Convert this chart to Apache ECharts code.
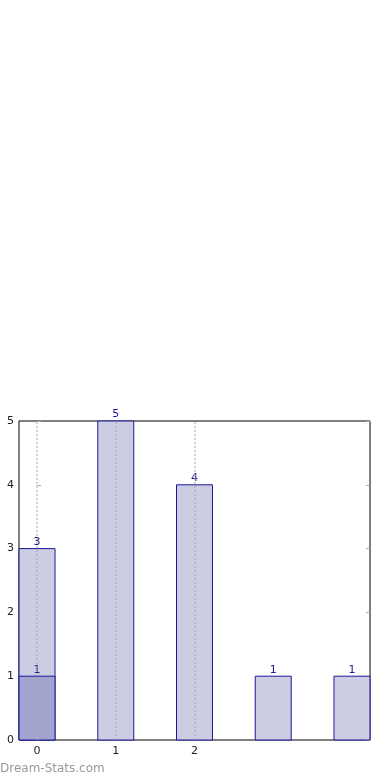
<!DOCTYPE html>
<html><head><meta charset="utf-8">
<script src="https://cdn.jsdelivr.net/npm/echarts@6/dist/echarts.min.js"></script>
<style>html,body{margin:0;padding:0;background:#fff}#c{width:390px;height:780px}</style>
</head><body><div id="c"></div>
<script>
var positions = [0, 1, 2, 3, 4];
var counts = [3, 5, 4, 1, 1];
var overlayPositions = [0];
var overlayCounts = [1];
var xTickValues = [0, 1, 2];
var yTickValues = [0, 1, 2, 3, 4, 5];

var BAR_W = 0.457;
function barRender(fill) {
  return function (params, api) {
    var x = api.value(0), y = api.value(1);
    var p0 = api.coord([x - BAR_W / 2, 0]);
    var p1 = api.coord([x + BAR_W / 2, y]);
    return {
      type: 'group',
      children: [
        { type: 'rect', shape: { x: p0[0], y: p1[1], width: p1[0] - p0[0], height: p0[1] - p1[1] },
          style: { fill: fill, stroke: '#1a1a99', lineWidth: 1 } },
        { type: 'text', x: (p0[0] + p1[0]) / 2, y: p1[1] - 1,
          style: { text: String(y), fill: '#1a1a8c', font: '11px "DejaVu Sans"', align: 'center', verticalAlign: 'bottom' } }
      ]
    };
  };
}

var chart = echarts.init(document.getElementById('c'));
chart.setOption({
  animation: false,
  grid: { left: 19, right: 20, top: 421, bottom: 40, show: true, borderColor: '#000', borderWidth: 1, backgroundColor: 'transparent' },
  xAxis: {
    type: 'value', min: -0.229, max: 4.229,
    axisLine: { show: false },
    splitLine: { show: false },
    axisTick: { show: true, inside: true, length: 3, customValues: xTickValues, lineStyle: { color: '#aaa' } },
    axisLabel: { customValues: xTickValues, color: '#222', fontSize: 11, fontFamily: 'DejaVu Sans', margin: 6 }
  },
  yAxis: [{
    type: 'value', min: 0, max: 5, interval: 1,
    axisLine: { show: false },
    splitLine: { show: false },
    axisTick: { show: true, inside: true, length: 4, lineStyle: { color: '#aaa' } },
    axisLabel: { color: '#222', fontSize: 11, fontFamily: 'DejaVu Sans', margin: 5 }
  }, {
    type: 'value', min: 0, max: 5, interval: 1, position: 'right',
    axisLine: { show: false }, splitLine: { show: false },
    axisTick: { show: true, inside: true, length: 4, lineStyle: { color: '#aaa' } },
    axisLabel: { show: false }
  }],
  graphic: [{ type: 'text', left: 0, top: 763, style: { text: 'Dream-Stats.com', fill: '#999', font: '12px "DejaVu Sans"' } }],
  series: [
    { type: 'custom', z: 2, renderItem: barRender('#ccccE3'), data: positions.map(function (p, i) { return [p, counts[i]]; }) },
    { type: 'custom', z: 3, renderItem: barRender('#a3a3cf'), data: overlayPositions.map(function (p, i) { return [p, overlayCounts[i]]; }) },
    { type: 'line', z: 5, data: [], markLine: { silent: true, symbol: 'none', label: { show: false },
        lineStyle: { color: '#aaa', type: [2, 2], width: 1.5, opacity: 0.7 },
        data: xTickValues.map(function (v) { return { xAxis: v }; }) } }
  ]
});
</script></body></html>
